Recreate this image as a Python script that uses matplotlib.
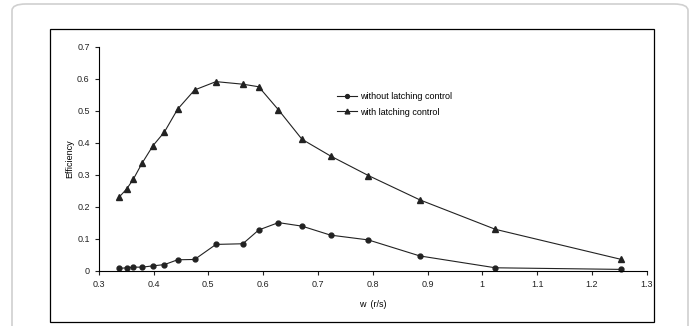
#Efficiency vs frequency, with and without latching control

import numpy as np
import matplotlib.pyplot as plt
from matplotlib.patches import FancyBboxPatch, Rectangle

plt.rcParams['font.family'] = ['Liberation Sans', 'DejaVu Sans']

# data
w = [0.337, 0.351, 0.363, 0.379, 0.399, 0.420, 0.444, 0.475, 0.514,
     0.563, 0.592, 0.628, 0.671, 0.723, 0.792, 0.886, 1.024, 1.254]
eff_without = [0.008, 0.010, 0.012, 0.012, 0.016, 0.020, 0.035, 0.036, 0.083,
               0.085, 0.128, 0.151, 0.140, 0.112, 0.097, 0.047, 0.010, 0.005]
eff_with = [0.230, 0.256, 0.286, 0.336, 0.391, 0.434, 0.505, 0.565, 0.591,
            0.583, 0.575, 0.503, 0.411, 0.359, 0.298, 0.222, 0.130, 0.036]

xticks = [0.3, 0.4, 0.5, 0.6, 0.7, 0.8, 0.9, 1.0, 1.1, 1.2, 1.3]
xticklabels = ['0.3', '0.4', '0.5', '0.6', '0.7', '0.8', '0.9', '1', '1.1', '1.2', '1.3']
yticks = [0, 0.1, 0.2, 0.3, 0.4, 0.5, 0.6, 0.7]
yticklabels = ['0', '0.1', '0.2', '0.3', '0.4', '0.5', '0.6', '0.7']

fig = plt.figure(figsize=(6.93, 3.26), dpi=100)

# outer card and inner frame
W, H = 693, 326
card = FancyBboxPatch((12 / W, -0.05), 676 / W, 1.05 - 4 / H,
                      boxstyle='round,pad=0,rounding_size=0.02',
                      transform=fig.transFigure, facecolor='none',
                      edgecolor='#d0d0d0', linewidth=1.2, zorder=-2)
fig.patches.append(card)
frame = Rectangle((50 / W, 1 - 322 / H), 604 / W, 293 / H,
                  transform=fig.transFigure, facecolor='none',
                  edgecolor='black', linewidth=0.9, zorder=-1)
fig.patches.append(frame)

ax = fig.add_axes([98.7 / W, 1 - 271 / H, 548 / W, 224.3 / H])
ax.patch.set_alpha(0)

ax.plot(w, eff_without, color='#222222', lw=0.8, marker='o', ms=3.5,
        label='without latching control', clip_on=False)
ax.plot(w, eff_with, color='#222222', lw=0.8, marker='^', ms=4.3,
        label='with latching control', clip_on=False)

ax.set_xlim(0.3, 1.3)
ax.set_ylim(0, 0.7)
ax.set_xticks(xticks)
ax.set_xticklabels(xticklabels)
ax.set_yticks(yticks)
ax.set_yticklabels(yticklabels)
ax.tick_params(labelsize=6.5, length=3, width=0.8, colors='#222222')
for s in ['top', 'right']:
    ax.spines[s].set_visible(False)
for s in ['left', 'bottom']:
    ax.spines[s].set_linewidth(0.8)

ax.set_xlabel('w  (r/s)', fontsize=6.5, labelpad=8)
ax.set_ylabel('Efficiency', fontsize=6.5, labelpad=2)

ax.legend(loc='upper left', bbox_to_anchor=(0.42, 0.835), frameon=False,
          fontsize=6.5, handlelength=2.2, handletextpad=0.3, labelspacing=0.75,
          markerscale=0.8)

fig.savefig('out.png', dpi=100)
